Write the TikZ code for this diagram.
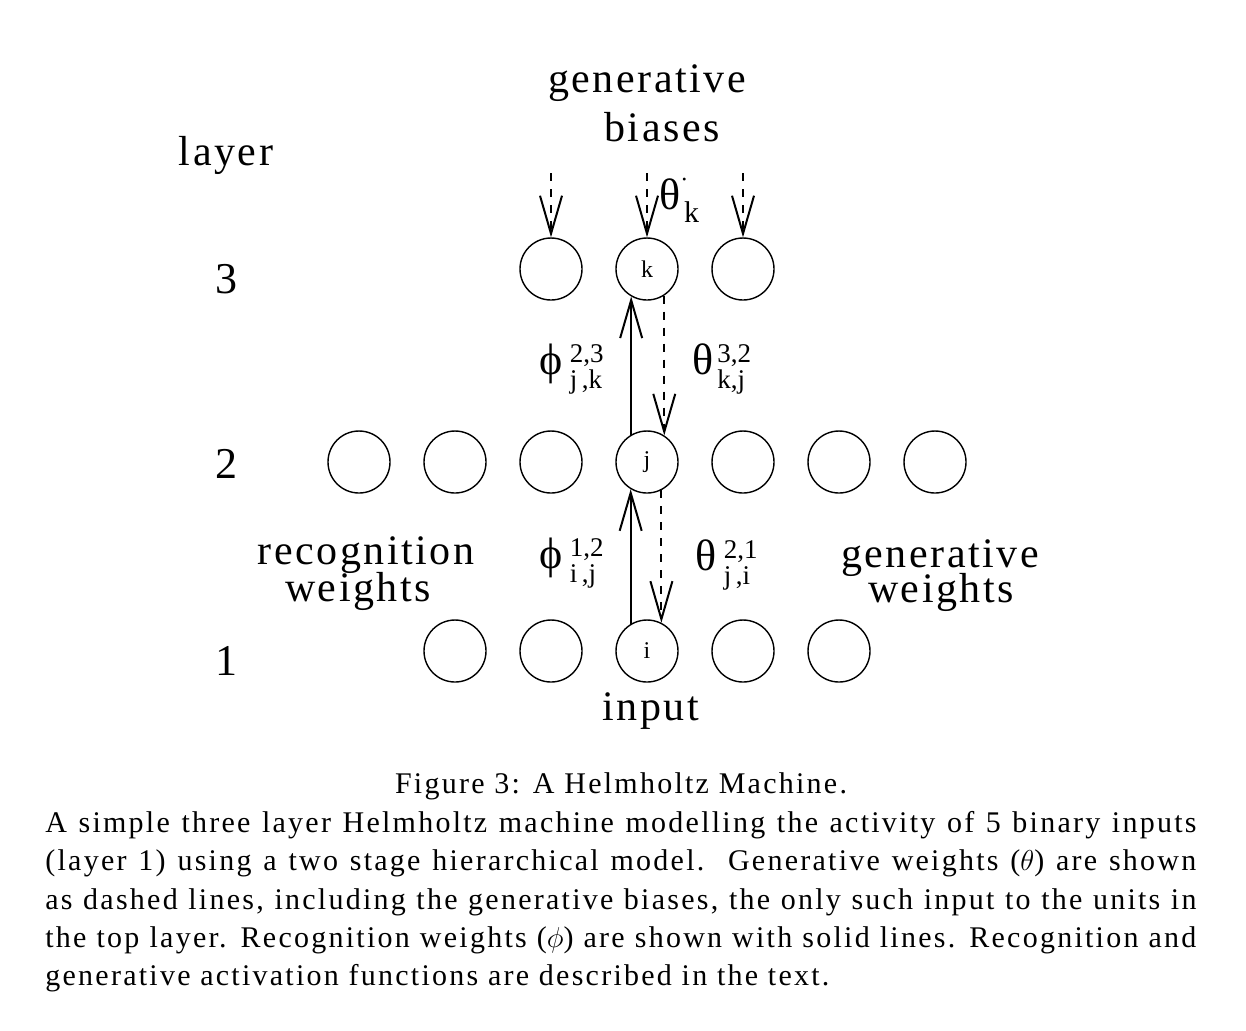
\documentclass[tikz,border=0pt]{standalone}
\usepackage{fontspec}
\setmainfont{Liberation Serif}
\newfontfamily\capfont[LetterSpace=7.5]{Liberation Serif}
\newfontfamily\bigfont[LetterSpace=6]{Liberation Serif}
\usetikzlibrary{arrows.meta}
\newcommand{\wl}[3]{#1\rlap{\raisebox{6pt}{\fontsize{13.5}{14}\selectfont #2}}\raisebox{-7pt}{\fontsize{13.5}{14}\selectfont #3}}
\tikzset{
  unit/.style={circle,draw,line width=0.7pt,minimum size=31pt,inner sep=0pt,font=\fontsize{12}{12}\selectfont},
  big/.style={font=\bigfont\fontsize{21}{22}\selectfont,inner sep=0pt},
  digit/.style={font=\fontsize{22}{22}\selectfont,inner sep=0pt},
  wlabel/.style={font=\fontsize{22}{22}\selectfont,inner sep=0pt,anchor=base west},
  recog/.style={line width=1pt,-{Straight Barb[length=19pt,width=11pt,line width=1pt]}},
  gener/.style={line width=1pt,dash pattern=on 4pt off 4pt,-{Straight Barb[length=19pt,width=11pt,line width=1pt]}},
  capline/.style={anchor=base west,inner sep=0pt,font=\capfont\fontsize{15}{16}\selectfont},
}
\begin{document}
\begin{tikzpicture}[x=0.5pt,y=-0.5pt]
\useasboundingbox (0,0) rectangle (1246,1030);
% layer labels
\node[big] (lay) at (226,155) {layer};
\node[digit] (n3) at (226,279) {3};
\node[digit] (n2) at (226,464) {2};
\node[digit] (n1) at (226,661) {1};
% units layer 3
\node[unit] (a3) at (551,269) {};
\node[unit] (k) at (647,269) {k};
\node[unit] (c3) at (743,269) {};
% layer 2
\foreach \x/\n in {359/a2,455/b2,551/c2,743/e2,839/f2,935/g2}
  \node[unit] (\n) at (\x,462) {};
\node[unit] (j) at (647,462) {j};
% layer 1
\foreach \x/\n in {455/a1,551/b1,743/d1,839/e1}
  \node[unit] (\n) at (\x,651) {};
\node[unit] (i) at (647,651) {i};
% bias arrows
\coordinate (ba) at (551,173);
\coordinate (bk) at (647,173);
\coordinate (bc) at (743,173);
\draw[gener] (ba) -- (a3.north);
\draw[gener] (bk) -- (k.north);
\draw[gener] (bc) -- (c3.north);
% weights
\draw[recog] (i.121) -- (j.239);
\draw[recog] (j.120) -- (k.240);
\draw[gener] (k.-57) -- (j.57);
\draw[gener] (j.-63) -- (i.63);
% texts
\node[big] (gb1) at (647,83) {generative};
\node[big] (gb2) at (662,127) {biases};
\node[big] (rw1) at (366,555) {recognition};
\node[big] (rw2) at (358,591) {weights};
\node[big] (gw1) at (940,558) {generative};
\node[big] (gw2) at (941,592) {weights};
\node[big] (inp) at (651,711) {input};
% weight labels
\node[wlabel] (tb) at (659,209) {θ\raisebox{0.5em}{\fontsize{12}{12}\selectfont·}\kern-0.1em\raisebox{-0.3em}{\fontsize{15}{15}\selectfont k}};
\node[wlabel] (p23) at (539,374) {\wl{ϕ\,}{2,3}{j\,,k}};
\node[wlabel] (t32) at (692,374) {\wl{θ\kern2pt}{3,2}{k,j}};
\node[wlabel] (p12) at (539,568) {\wl{ϕ\,}{1,2}{i\,,j}};
\node[wlabel] (t21) at (695,570) {\wl{θ\,}{2,1}{j\,,i}};
% caption
\node[capline,anchor=base] (fig) at (621,793) {Figure 3: A Helmholtz Machine.};
\node[capline] (l1) at (45,832) {\makebox[575.5pt][s]{A simple three layer Helmholtz machine modelling the activity of 5 binary inputs}};
\node[capline] (l2) at (45,870) {\makebox[575.5pt][s]{(layer 1) using a two stage hierarchical model.\ \ Generative weights ($\theta$) are shown}};
\node[capline] (l3) at (45,909) {\makebox[575.5pt][s]{as dashed lines, including the generative biases, the only such input to the units in}};
\node[capline] (l4) at (45,947) {\makebox[575.5pt][s]{the top layer. Recognition weights ($\phi$) are shown with solid lines. Recognition and}};
\node[capline] (l5) at (45,985) {generative activation functions are described in the text.};
\end{tikzpicture}
\end{document}
